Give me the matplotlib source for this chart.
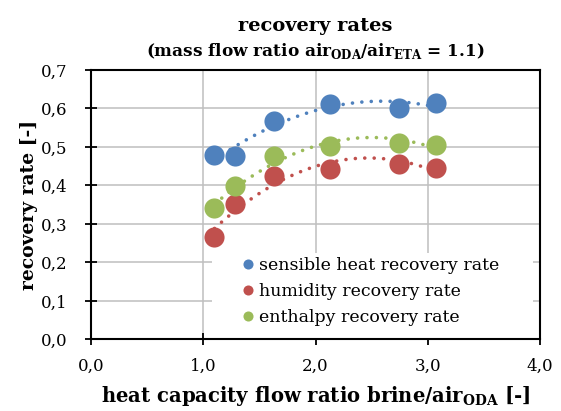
import matplotlib
matplotlib.use('Agg')
import matplotlib.pyplot as plt
from matplotlib.patches import Rectangle
from matplotlib.ticker import FuncFormatter, MultipleLocator
import numpy as np

plt.rcParams['font.family'] = 'DejaVu Serif'
plt.rcParams['mathtext.fontset'] = 'custom'
plt.rcParams['mathtext.rm'] = 'DejaVu Serif'
plt.rcParams['mathtext.bf'] = 'DejaVu Serif:bold'

# heat capacity flow ratio brine/air_ODA
x_ratio = [1.10, 1.28, 1.63, 2.13, 2.74, 3.07]
sensible = [0.478, 0.476, 0.568, 0.612, 0.600, 0.613]
humidity = [0.266, 0.351, 0.424, 0.442, 0.455, 0.446]
enthalpy = [0.340, 0.398, 0.476, 0.502, 0.509, 0.505]
labels = ['sensible heat recovery rate', 'humidity recovery rate', 'enthalpy recovery rate']
colors = ['#4F81BD', '#C0504D', '#9BBB59']

fig = plt.figure(figsize=(5.61, 4.11), dpi=100)
ax = fig.add_axes([91/561, 1 - 339.3/411, 449/561, 269.3/411])

x = np.array(x_ratio)
xs = np.linspace(x.min(), x.max(), 200)
for ys, c, lab in zip([sensible, humidity, enthalpy], colors, labels):
    # 2nd order polynomial trendline like in Excel
    p = np.polyfit(x, ys, 2)
    ax.plot(xs, np.polyval(p, xs), color=c, lw=2.6, dashes=(0.01, 2.6),
            dash_capstyle='round', zorder=2)
    ax.plot(x, ys, 'o', color=c, ms=14.5, mec='none', zorder=3, label=lab)

ax.set_xlim(0, 4)
ax.set_ylim(0, 0.7)
ax.xaxis.set_major_locator(MultipleLocator(1))
ax.yaxis.set_major_locator(MultipleLocator(0.1))
fmt = FuncFormatter(lambda v, pos: f'{v:.1f}'.replace('.', ','))
ax.xaxis.set_major_formatter(fmt)
ax.yaxis.set_major_formatter(fmt)
ax.set_axisbelow(True)
ax.grid(True, color='#BFBFBF', lw=1.1)
for s in ax.spines.values():
    s.set_linewidth(1.5)
    s.set_color('black')
ax.tick_params(direction='inout', length=8, width=1.3, labelsize=12)
ax.tick_params(axis='y', pad=13)
ax.tick_params(axis='x', pad=9)

ax.set_xlabel(r'heat capacity flow ratio brine/air$_{\mathbf{ODA}}$ [-]',
              fontsize=14.1, fontweight='bold', va='baseline')
ax.xaxis.set_label_coords(0.5, -0.232)
ax.set_ylabel('recovery rate [-]', fontsize=13.5, fontweight='bold')
ax.yaxis.set_label_coords(-0.117, 0.5)

ax.text(0.5, 1.145, 'recovery rates', transform=ax.transAxes, ha='center',
        va='baseline', fontsize=14, fontweight='bold')
ax.text(0.5, 1.052, r'(mass flow ratio air$_{\mathbf{ODA}}$/air$_{\mathbf{ETA}}$ = 1.1)',
        transform=ax.transAxes, ha='center', va='baseline', fontsize=12.2,
        fontweight='bold')

# white legend area covering the grid
ax.add_patch(Rectangle((0.27, 0.0), 0.715, 0.32, transform=ax.transAxes,
                       facecolor='white', edgecolor='none', zorder=1))
leg = ax.legend(loc='lower left', bbox_to_anchor=(0.31, 0.004), frameon=False,
                fontsize=12.5, markerscale=0.5, handlelength=0.6,
                handletextpad=0.35, labelspacing=0.52, borderpad=0.2)

fig.savefig('out.png', dpi=100)
